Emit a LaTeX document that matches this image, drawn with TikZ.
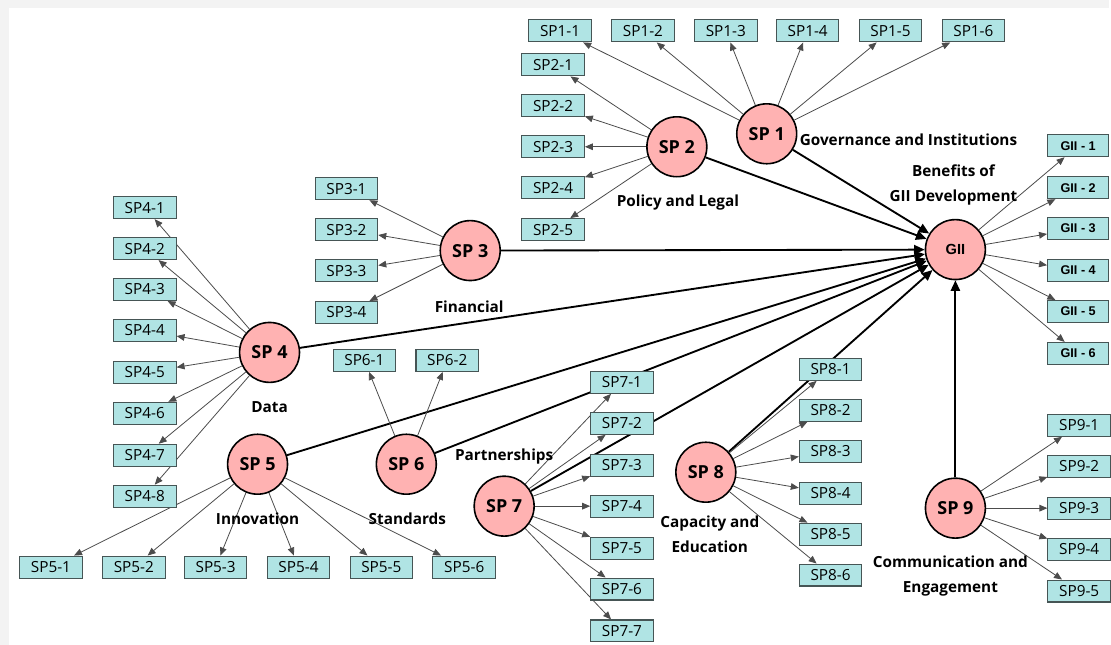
\documentclass[tikz,border=0pt]{standalone}
\usepackage{fontspec}
\setmainfont{Open Sans}
\newfontfamily\giifont{Liberation Sans}
\usetikzlibrary{arrows.meta}

\definecolor{spfill}{RGB}{255,178,178}
\definecolor{subfill}{RGB}{176,228,228}
\definecolor{subline}{RGB}{70,85,85}
\definecolor{edgegray}{RGB}{243,243,243}

\pgfdeclarelayer{back}
\pgfdeclarelayer{lines}
\pgfsetlayers{back,lines,main}

\begin{document}
\begin{tikzpicture}[x=0.75pt, y=-0.75pt,
  spnode/.style={circle, draw=black, line width=1.2pt, fill=spfill, minimum size=45pt, inner sep=0pt,
    font=\bfseries\fontsize{13.5}{15}\selectfont},
  subbox/.style={draw=subline, fill=subfill, line width=0.8pt, minimum width=47pt, minimum height=16.5pt,
    inner sep=0pt, font=\fontsize{11.5}{12}\selectfont},
  giibox/.style={subbox, minimum width=46pt, font=\giifont\bfseries\fontsize{9.5}{10}\selectfont},
  catlabel/.style={font=\bfseries\fontsize{11.5}{18.5}\selectfont, align=center},
  main/.style={-{Triangle[length=8pt, width=7pt]}, line width=1.4pt, draw=black},
  sub/.style={-{Triangle[length=6pt, width=5pt]}, line width=0.6pt, draw=black!70}
]

% Background
\begin{pgfonlayer}{back}
  \fill[edgegray] (0,0) rectangle (1111,646);
  \fill[white] (9,8) rectangle (1111,646);
\end{pgfonlayer}

% === STRATEGIC PATHWAYS ===
\node[spnode] (sp1) at (768,134) {SP 1};
\node[spnode] (sp2) at (678,147) {SP 2};
\node[spnode] (sp3) at (471,251) {SP 3};
\node[spnode] (sp4) at (270,353) {SP 4};
\node[spnode] (sp5) at (258,465) {SP 5};
\node[spnode] (sp6) at (407,465) {SP 6};
\node[spnode] (sp7) at (505,507) {SP 7};
\node[spnode] (sp8) at (707,473) {SP 8};
\node[spnode] (sp9) at (957,509) {SP 9};
\node[spnode, font=\giifont\bfseries\fontsize{11}{13}\selectfont] (gii) at (957,250) {GII};

% === LABELS ===
\node[catlabel] (lab1) at (910,140) {Governance and Institutions};
\node[catlabel] (labgii) at (955,185) {Benefits of\\GII Development};
\node[catlabel] (lab2) at (679,203) {Policy and Legal};
\node[catlabel] (lab3) at (470,307) {Financial};
\node[catlabel] (lab4) at (270,408) {Data};
\node[catlabel] (lab5) at (258,520) {Innovation};
\node[catlabel] (lab6) at (408,520) {Standards};
\node[catlabel] (lab7) at (505,457) {Partnerships};
\node[catlabel] (lab8) at (711,535) {Capacity and\\Education};
\node[catlabel] (lab9) at (952,577) {Communication and\\Engagement};

% === SUB-ITEMS ===
\foreach \i/\x in {1/561,2/644,3/727,4/809,5/892,6/975}
  \node[subbox] (sp1-\i) at (\x,31) {SP1-\i};
\foreach \i/\y in {1/65,2/106,3/147,4/188,5/230}
  \node[subbox] (sp2-\i) at (554,\y) {SP2-\i};
\foreach \i/\y in {1/189,2/230,3/271,4/313}
  \node[subbox] (sp3-\i) at (347,\y) {SP3-\i};
\foreach \i/\y in {1/208,2/249,3/290,4/331,5/373,6/414,7/456,8/497}
  \node[subbox] (sp4-\i) at (145,\y) {SP4-\i};
\foreach \i/\x in {1/51,2/134,3/216,4/299,5/382,6/465}
  \node[subbox] (sp5-\i) at (\x,568) {SP5-\i};
\foreach \i/\x in {1/365,2/448}
  \node[subbox] (sp6-\i) at (\x,361) {SP6-\i};
\foreach \i/\y in {1/383,2/424,3/466,4/507,5/549,6/590,7/632}
  \node[subbox] (sp7-\i) at (623,\y) {SP7-\i};
\foreach \i/\y in {1/370,2/411,3/452,4/494,5/535,6/576}
  \node[subbox] (sp8-\i) at (832,\y) {SP8-\i};
\foreach \i/\y in {1/426,2/467,3/509,4/550,5/592}
  \node[subbox] (sp9-\i) at (1081,\y) {SP9-\i};
\foreach \i/\y in {1/146,2/188,3/229,4/271,5/312,6/354}
  \node[giibox] (gii-\i) at (1080,\y) {GII - \i};

% === CONNECTORS ===
\begin{pgfonlayer}{lines}
  \foreach \s in {1,...,9}
    \draw[main] (sp\s) -- (gii);
  \foreach \i in {1,...,6} \draw[sub] (sp1) -- (sp1-\i);
  \foreach \i in {1,...,5} \draw[sub] (sp2) -- (sp2-\i);
  \foreach \i in {1,...,4} \draw[sub] (sp3) -- (sp3-\i);
  \foreach \i in {1,...,8} \draw[sub] (sp4) -- (sp4-\i);
  \foreach \i in {1,...,6} \draw[sub] (sp5) -- (sp5-\i);
  \foreach \i in {1,2} \draw[sub] (sp6) -- (sp6-\i);
  \foreach \i in {1,...,7} \draw[sub] (sp7) -- (sp7-\i);
  \foreach \i in {1,...,6} \draw[sub] (sp8) -- (sp8-\i);
  \foreach \i in {1,...,5} \draw[sub] (sp9) -- (sp9-\i);
  \foreach \i in {1,...,6} \draw[sub] (gii) -- (gii-\i);
\end{pgfonlayer}

\end{tikzpicture}
\end{document}
